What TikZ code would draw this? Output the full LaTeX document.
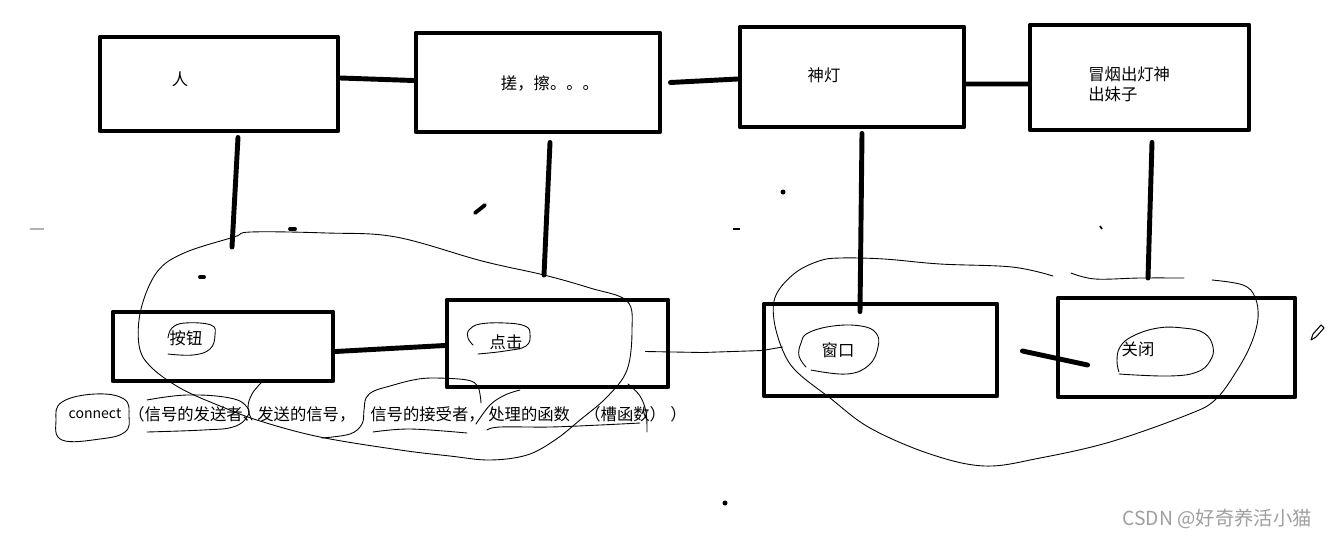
\documentclass[tikz,border=0pt]{standalone}
\usepackage{fontspec}
\newfontfamily\cjk{Noto Sans CJK SC}
\usetikzlibrary{calc}

\begin{document}
\begin{tikzpicture}[x=0.02cm, y=-0.02cm, line join=round]

\tikzset{
  box/.style={rectangle, draw, line width=2.8pt, inner sep=0pt},
  boxtext/.style={font=\cjk\fontsize{9.3}{11.5}\selectfont, inner sep=0pt},
  codetext/.style={font=\cjk\fontsize{8}{10}\selectfont, inner sep=0pt},
  joint/.style={line width=2.8pt, line cap=round},
  penline/.style={line width=0.5pt, line cap=round},
  speck/.style={line width=2.2pt, line cap=round}
}

\useasboundingbox (0,0) rectangle (1328,538);
\fill[white] (0,0) rectangle (1328,538);

% =========================================================
% Top row: 人 -> 搓擦 -> 神灯 -> 冒烟
% =========================================================
\node[box, minimum width=4.76cm, minimum height=1.88cm] (ren) at (219,84) {};
\node[box, minimum width=4.88cm, minimum height=1.98cm] (rub) at (538,82.5) {};
\node[box, minimum width=4.48cm, minimum height=2.0cm] (lamp) at (852,77) {};
\node[box, minimum width=4.38cm, minimum height=2.1cm] (smoke) at (1139.5,77.5) {};

\node[boxtext] (tRen) at (180,79) {人};
\node[boxtext] (tRub) at (550,83) {搓，擦。。。};
\node[boxtext] (tLamp) at (824,75) {神灯};
\node[boxtext, anchor=west, align=left] (tSmoke) at (1088,84) {冒烟出灯神\\出妹子};

\draw[joint] ($(ren.east)+(0,-6)$) -- ($(rub.west)+(0,-2)$);
\draw[joint] ($(rub.east)+(8,0)$) -- ($(lamp.west)+(0,2)$);
\draw[joint] ($(lamp.east)+(0,7)$) -- ($(smoke.west)+(0,6.5)$);

% =========================================================
% Bottom row: 按钮 -> 点击 -> 窗口 -> 关闭
% =========================================================
\node[box, minimum width=4.4cm, minimum height=1.38cm] (btn) at (223,346.5) {};
\node[box, minimum width=4.42cm, minimum height=1.74cm] (click) at (557.5,343.5) {};
\node[box, minimum width=4.66cm, minimum height=1.84cm] (win) at (880.5,350) {};
\node[box, minimum width=4.74cm, minimum height=1.98cm] (close) at (1176.5,347.5) {};

\node[boxtext] (tBtn) at (186,338) {按钮};
\node[boxtext] (tClick) at (506,342) {点击};
\node[boxtext] (tWin) at (838,350) {窗口};
\node[boxtext] (tClose) at (1138,349) {关闭};

\draw[joint] ($(btn.east)+(0,5)$) -- ($(click.west)+(0,2)$);
\draw[penline] ($(click.east)+(-25,8)$) -- ++(57,1) -- ++(60,-2) -- ($(win.west)+(21,-3)$);
\draw[joint] ($(win.east)+(23,1)$) -- ($(close.west)+(32,17.5)$);

% =========================================================
% Vertical links between the rows
% =========================================================
\coordinate (renEnd) at (232,247);
\coordinate (rubEnd) at (544,275);
\coordinate (smokeEnd) at (1148,278);

\draw[joint] ($(ren.south)+(19,4)$) -- (renEnd);
\draw[joint] ($(rub.south)+(12,8)$) -- (rubEnd);
\draw[joint] ($(lamp.south)+(10,4)$) -- ($(win.north)+(-20.5,10)$);
\draw[joint] ($(smoke.south)+(12.5,10)$) -- (smokeEnd);

% =========================================================
% connect(...) line
% =========================================================
\node[codetext] (cConnect) at (95,414) {connect};
\node[boxtext, anchor=west] (cSender) at (128,414) {（信号的发送者、};
\node[boxtext, anchor=west] (cSignal) at (257,414) {发送的信号，};
\node[boxtext, anchor=west] (cReceiver) at (370,414) {信号的接受者，};
\node[boxtext, anchor=west] (cHandler) at (488,414) {处理的函数};
\node[boxtext, anchor=west] (cSlot) at (584,414) {（槽函数）};
\node[boxtext, anchor=west] (cEnd) at (670,414) {）};

% =========================================================
% Hand-drawn loops and rings
% =========================================================
\draw[penline] plot[smooth cycle, tension=0.6] coordinates {
  (141,309) (157,272) (184,253) (234,237) (251,232) (327,233) (396,237)
  (482,261) (544,275) (590,288) (627,301) (632,330) (627,370) (607,397)
  (580,420) (555,440) (527,455) (490,460) (450,456) (400,450) (320,437)
  (260,421) (220,406) (180,388) (150,366) (139,345)};

\draw[penline] plot[smooth, tension=0.6] coordinates {
  (1212,280) (1243,285) (1255,297) (1258,318) (1251,344) (1236,372)
  (1215,400) (1187,415) (1110,442) (1040,458) (985,466) (930,454)
  (870,428) (830,398) (797,372) (783,351) (774,320) (776,295) (795,273)
  (819,261) (840,258) (884,259) (940,264) (1012,267) (1053,276)};
\draw[penline] plot[smooth, tension=0.6] coordinates {
  (1071,273) (1095,279) (1140,278) (1184,278)};

% rings round the box texts
\draw[penline] plot[smooth, tension=0.7] coordinates {
  (168,354) (193,355) (210,349) (215,335) (211,325) (185,323) (172,328) (168,338)};
\draw[penline] plot[smooth, tension=0.7] coordinates {
  (473,345) (468,338) (469,330) (480,324) (505,323) (525,326) (530,334)
  (526,346) (505,351) (478,354)};
\draw[penline] plot[smooth, tension=0.7] coordinates {
  (806,367) (799,356) (801,343) (808,333) (833,326) (861,326) (876,333)
  (878,347) (869,365) (847,374) (811,370)};
\draw[penline] plot[smooth, tension=0.7] coordinates {
  (1119,372) (1117,361) (1120,347) (1133,336) (1158,328) (1183,328)
  (1204,333) (1213,347) (1210,361) (1197,372) (1169,376) (1119,374)};

% rings and underlines on the connect line
\draw[penline] plot[smooth cycle, tension=0.7] coordinates {
  (62,402) (95,394) (124,399) (129,416) (125,432) (100,439) (62,440) (56,420)};
\draw[penline] plot[smooth, tension=0.7] coordinates {
  (147,400) (187,395) (230,398) (247,407) (247,417) (233,427) (203,430) (147,432)};
\draw[penline] plot[smooth, tension=0.7] coordinates {
  (262,382) (252,394) (248,408) (252,420)};
\draw[penline] plot[smooth, tension=0.6] coordinates {
  (322,438) (350,434) (362,424) (364,410) (366,398) (374,391) (390,386)
  (413,380) (433,378) (467,380) (478,387) (481,403)};
\draw[penline] plot[smooth, tension=0.6] coordinates {
  (373,432) (410,429) (467,433)};
\draw[penline] plot[smooth, tension=0.6] coordinates {
  (476,424) (490,405) (505,395) (520,390)};
\draw[penline] plot[smooth, tension=0.6] coordinates {
  (487,430) (500,427) (550,427) (600,425) (640,423)};
\draw[penline] plot[smooth, tension=0.6] coordinates {
  (628,384) (640,396) (646,412) (647,432)};

% =========================================================
% Stray specks, cursor and watermark
% =========================================================
\draw[speck] (475,213) -- (485,205);
\draw[speck] (290,229) -- (295,229);
\draw[speck] (200,277) -- (204,277);
\draw[line width=1.2pt] (733,229) -- (740,229);
\draw[gray!60, line width=0.8pt] (30,229) -- (44,229);
\draw[line width=1pt] (1100,226) -- (1102,229);
\fill (783,192) circle (2.5);
\fill (725,503) circle (2.5);
\draw[line width=0.6pt, fill=white] (1311,340) -- (1313,334) -- (1321,325)
  -- (1324,328) -- (1316,337) -- cycle;

\node[anchor=east, text=gray!75, font=\cjk\fontsize{11}{13}\selectfont] (wm) at (1318,519) {CSDN @好奇养活小猫};

\end{tikzpicture}
\end{document}
